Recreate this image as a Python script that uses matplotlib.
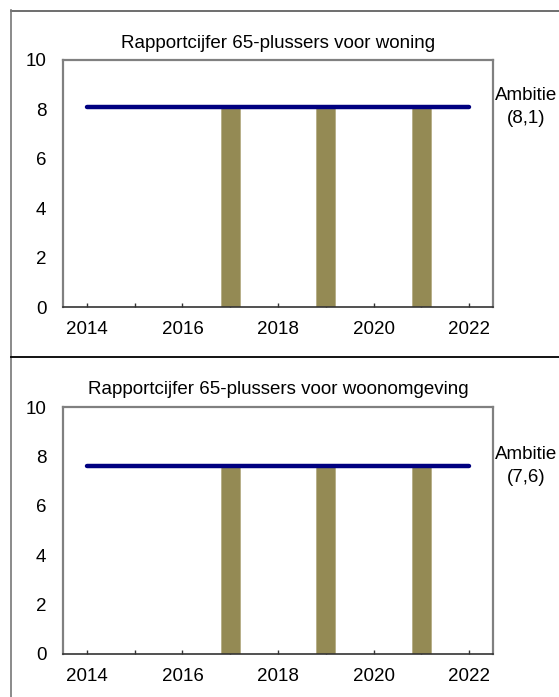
import matplotlib
matplotlib.use("Agg")
import matplotlib.pyplot as plt
from matplotlib.lines import Line2D

plt.rcParams['font.family'] = ['Liberation Sans', 'DejaVu Sans']
plt.rcParams['font.size'] = 13.5

# data
years = [2017, 2019, 2021]
woning = [8.1, 8.1, 8.1]
woonomgeving = [7.6, 7.6, 7.6]
ambitie_woning = 8.1
ambitie_woonomgeving = 7.6
ambitie_years = [2014, 2022]
titles = ["Rapportcijfer 65-plussers voor woning",
          "Rapportcijfer 65-plussers voor woonomgeving"]
ambitie_labels = ["Ambitie\n(8,1)", "Ambitie\n(7,6)"]

W, H = 559, 697
fig = plt.figure(figsize=(W / 100, H / 100), dpi=100)

bar_color = '#948A54'
line_color = '#000080'

def panel(top_px, values, ambitie, title, label):
    bottom_px = top_px + 247
    ax = fig.add_axes([63 / W, (H - bottom_px) / H, 430 / W, 247 / H])
    ax.bar(years, values, width=0.4, color=bar_color, edgecolor='#b5ad85',
           linewidth=0.6, zorder=2)
    ax.plot(ambitie_years, [ambitie, ambitie], color=line_color, lw=3.2,
            solid_capstyle='round', zorder=3)
    ax.set_xlim(2013.5, 2022.5)
    ax.set_ylim(0, 10)
    ax.set_xticks(range(2014, 2023))
    ax.set_xticklabels([str(y) if y % 2 == 0 else '' for y in range(2014, 2023)])
    ax.set_yticks(range(0, 11, 2))
    ax.tick_params(axis='x', direction='in', length=3, width=1, color='#333333', pad=10)
    ax.tick_params(axis='y', length=0, pad=12)
    for s in ['left', 'top', 'right']:
        ax.spines[s].set_color('#808080')
        ax.spines[s].set_linewidth(1.6)
    ax.spines['bottom'].set_color('#333333')
    ax.spines['bottom'].set_linewidth(1.2)
    ax.set_title(title, fontsize=13.5, pad=9)
    ax.text(2023.2, ambitie, label, ha='center', va='center', fontsize=13.5,
            linespacing=1.45, clip_on=False)
    return ax

panel(60, woning, ambitie_woning, titles[0], ambitie_labels[0])
panel(407, woonomgeving, ambitie_woonomgeving, titles[1], ambitie_labels[1])

# outer frame lines (pixel coordinates)
def fline(x0, y0, x1, y1, color, lw):
    fig.add_artist(Line2D([x0 / W, x1 / W], [(H - y0) / H, (H - y1) / H],
                          transform=fig.transFigure, color=color, lw=lw))

fline(11, 10.5, W, 10.5, '#555555', 1.2)
fline(11, 10, 11, H, '#777777', 1.2)
fline(11, 357, W, 357, 'black', 1.3)

fig.savefig('out.png', dpi=100)
